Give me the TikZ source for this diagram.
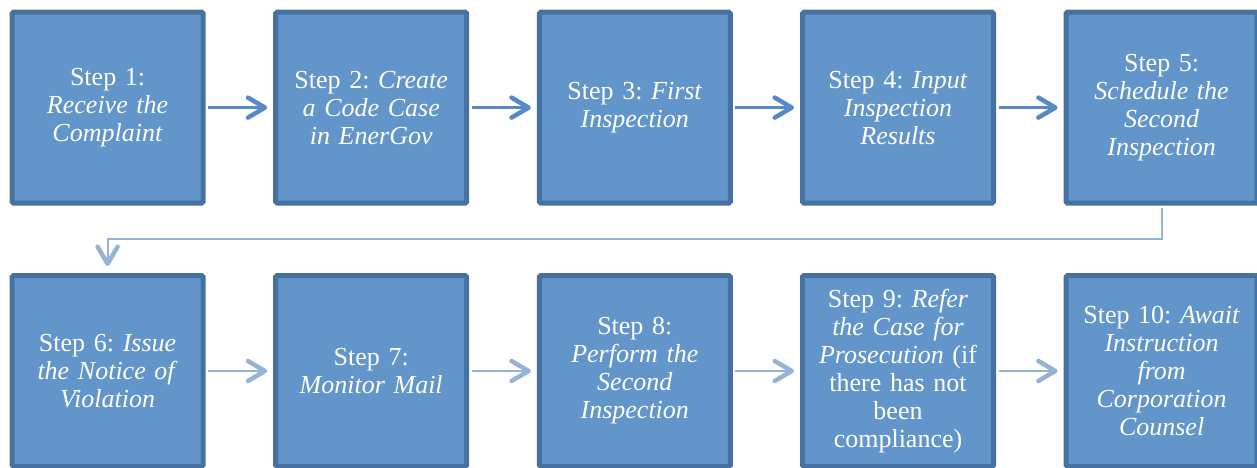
\documentclass[tikz,border=0pt]{standalone}
\usepackage{fontspec}
\setmainfont{Liberation Serif}
\usetikzlibrary{arrows.meta}
\frenchspacing
\definecolor{boxfill}{RGB}{98,149,201}
\definecolor{boxline}{RGB}{71,113,160}
\definecolor{arrdark}{RGB}{86,137,197}
\definecolor{arrlight}{RGB}{149,179,215}
\tikzset{
  stepbox/.style={draw=boxline, fill=boxfill, line width=5pt, rounded corners=1.5pt,
    minimum width=191pt, minimum height=191pt, inner sep=0pt, text=white,
    align=center, text width=185pt,
    font=\frenchspacing\fontsize{26pt}{28pt}\selectfont},
  barb/.style={-{Straight Barb[length=17pt, width=20pt, line width=4.5pt, round]}},
  toparrow/.style={barb, draw=arrdark, line width=2.5pt, shorten <=2.5pt, shorten >=6pt},
  botarrow/.style={barb, draw=arrlight, line width=2.5pt, shorten <=2.5pt, shorten >=6pt},
  linkline/.style={draw=arrlight, line width=2pt},
}
\begin{document}
\begin{tikzpicture}[x=1pt, y=-1pt]
\useasboundingbox (0,0) rectangle (1257,468);
% top row
\node[stepbox] (b1) at (107.6,107.6) {Step 1:\\\textit{Receive the}\\\textit{Complaint}};
\node[stepbox] (b2) at (371.2,107.6) {Step 2: \textit{Create}\\\textit{a Code Case}\\\textit{in EnerGov}};
\node[stepbox] (b3) at (634.8,107.6) {Step 3: \textit{First}\\\textit{Inspection}};
\node[stepbox] (b4) at (898.0,107.6) {Step 4: \textit{Input}\\\textit{Inspection}\\\textit{Results}};
\node[stepbox] (b5) at (1161.6,107.6) {Step 5:\\\textit{Schedule the}\\\textit{Second}\\\textit{Inspection}};
% bottom row
\node[stepbox] (b6) at (107.6,371) {Step 6: \textit{Issue}\\\textit{the Notice of}\\\textit{Violation}};
\node[stepbox] (b7) at (371.2,371) {Step 7:\\\textit{Monitor Mail}};
\node[stepbox] (b8) at (634.8,371) {Step 8:\\\textit{Perform the}\\\textit{Second}\\\textit{Inspection}};
\node[stepbox] (b9) at (898.0,371) {Step 9: \textit{Refer}\\\textit{the Case for}\\\textit{Prosecution} (if\\there has not\\been\\compliance)};
\node[stepbox] (b10) at (1161.6,371) {Step 10: \textit{Await}\\\textit{Instruction}\\\textit{from}\\\textit{Corporation}\\\textit{Counsel}};
% arrows
\draw[toparrow] (b1) -- (b2);
\draw[toparrow] (b2) -- (b3);
\draw[toparrow] (b3) -- (b4);
\draw[toparrow] (b4) -- (b5);
\draw[botarrow] (b6) -- (b7);
\draw[botarrow] (b7) -- (b8);
\draw[botarrow] (b8) -- (b9);
\draw[botarrow] (b9) -- (b10);
% link between rows
\coordinate (c1) at (1161.6,239);
\coordinate (c2) at (107.6,239);
\draw[linkline, barb, shorten <=2.5pt, shorten >=7pt] (b5) -- (c1) -- (c2) -- (b6);
\end{tikzpicture}
\end{document}
